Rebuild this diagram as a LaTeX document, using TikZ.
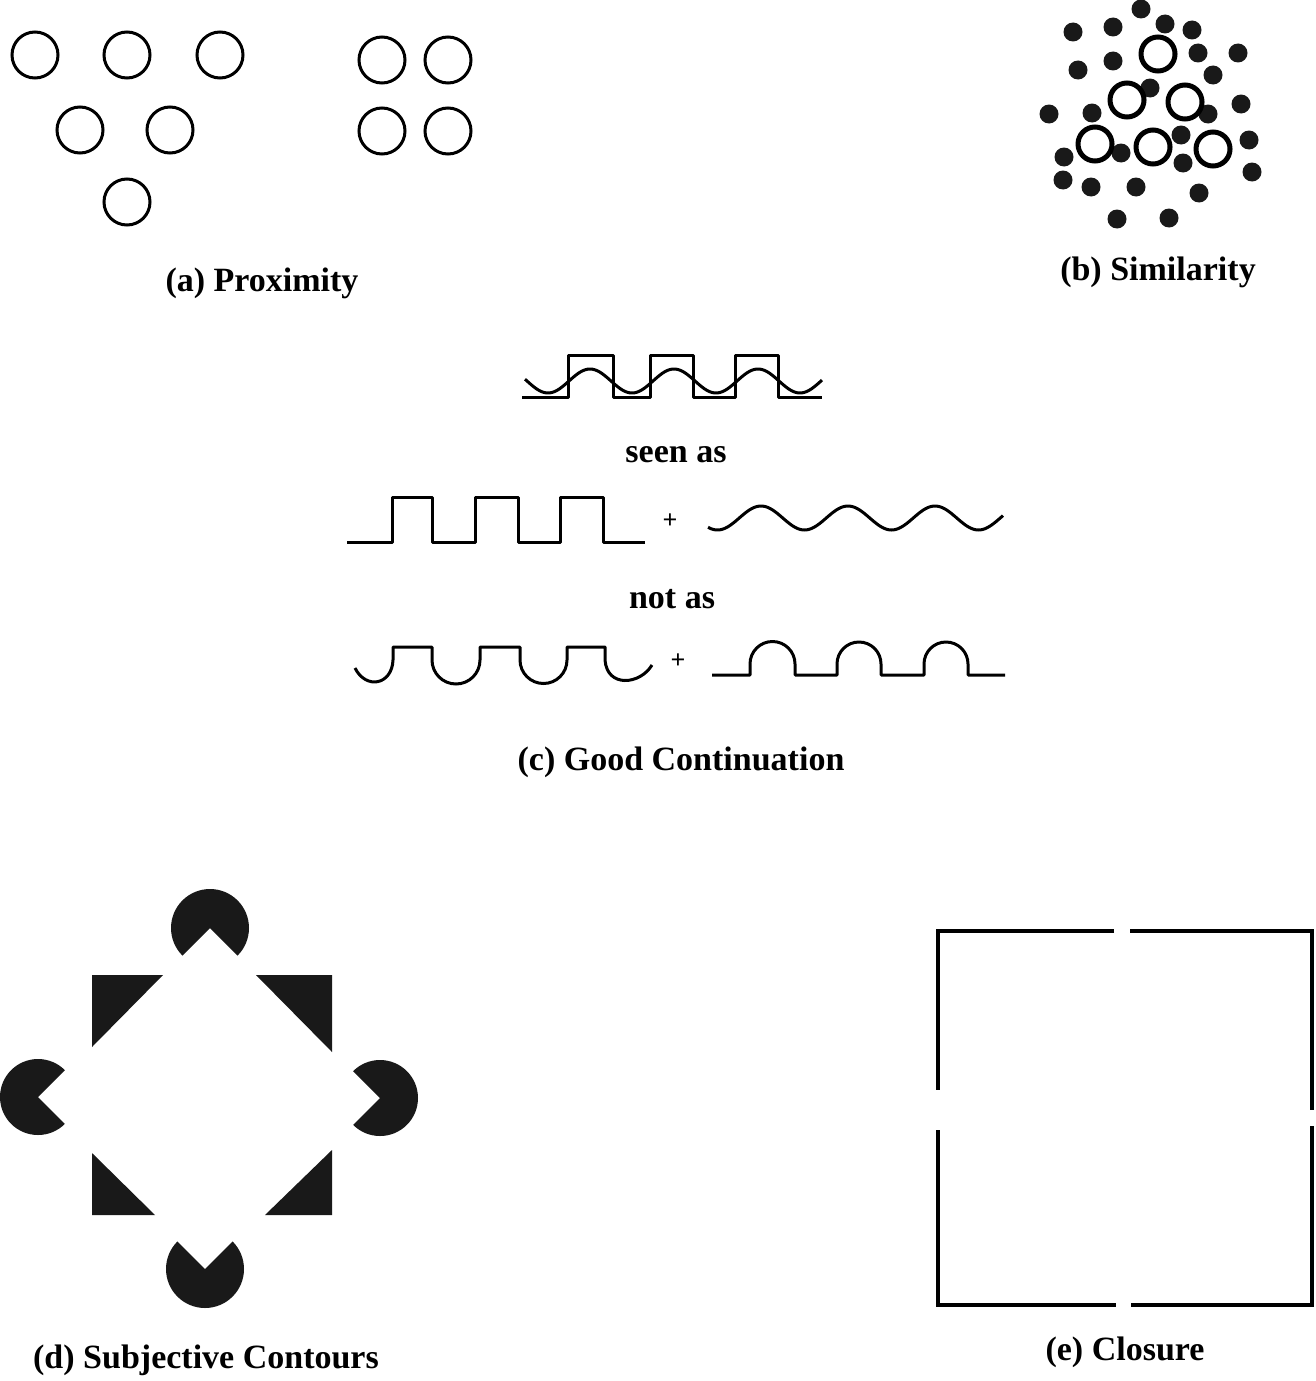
\documentclass[tikz,border=0pt]{standalone}
\usepackage{fontspec}
\setmainfont{Liberation Serif}
\begin{document}
\begin{tikzpicture}[x=1pt,y=-1pt,
  ring/.style={line width=3pt},
  bring/.style={line width=5pt},
  wave/.style={line width=3pt,line join=round},
  lab/.style={font=\fontsize{34}{40}\selectfont\bfseries},
  sub/.style={font=\fontsize{34}{40}\selectfont\bfseries},
  blk/.style={fill=black!90}]
\useasboundingbox (0,0) rectangle (1316,1381);
% (a)
\foreach \p in {(35,55),(127,55),(220,55),(80,130),(170,130),(127,202),(382,60),(448,60),(382,131),(448,131)}
  \draw[ring] \p circle[radius=23];
\node[lab] (la) at (262,283) {(a) Proximity};
% (b)
\foreach \p in {(1141,9),(1073,32),(1113,27),(1165,24),(1192,30),(1198,53),(1238,53),(1078,70),(1113,61),(1213,75),(1150,88),(1241,104),(1049,114),(1092,113),(1208,114),(1181,135),(1121,153),(1064,157),(1249,140),(1183,163),(1063,180),(1091,187),(1136,187),(1252,172),(1199,193),(1117,219),(1169,218)}
  \fill[blk] \p circle[radius=9.5];
\foreach \p in {(1158,54),(1127,100),(1185,102),(1095,144),(1153,147),(1213,149)}
  \draw[bring] \p circle[radius=17];
\node[lab] (lb) at (1158,272) {(b) Similarity};
% (c) top
\draw[wave] (522,397) -- (568,397) -- (568,355) -- (613,355) -- (613,397) -- (650,397) -- (650,355) -- (693,355) -- (693,397) -- (735,397) -- (735,355) -- (778,355) -- (778,397) -- (822,397);
\draw[wave,domain=525:822,samples=120] plot (\x,{381-12*cos((\x-590)/84*360)});
\node[sub] (seen) at (676,455) {seen as};
\draw[wave] (347,542) -- (392,542) -- (392,497) -- (432,497) -- (432,542) -- (475,542) -- (475,497) -- (518,497) -- (518,542) -- (560,542) -- (560,497) -- (603,497) -- (603,542) -- (645,542);
\node[font=\fontsize{26}{26}\selectfont\bfseries] (plus1) at (670,521) {+};
\draw[wave,domain=708:1003,samples=120] plot (\x,{518-12*cos((\x-761)/87*360)});
\node[sub] (notas) at (672,599) {not as};
\draw[wave] (355,668) .. controls (366,690) and (392,685) .. (393,660) -- (393,647) -- (432,647) -- (432,660)
  arc[start angle=180,end angle=0,radius=24] -- (480,647) -- (520,647) -- (520,660)
  arc[start angle=180,end angle=0,radius=23.5] -- (567,647) -- (605,647) -- (605,660)
  .. controls (607,688) and (640,685) .. (652,665);
\node[font=\fontsize{26}{26}\selectfont\bfseries] (plus2) at (678,661) {+};
\draw[wave] (712,675) -- (750,675) -- (750,664) arc[start angle=180,end angle=360,radius=22.5] -- (795,675)
  -- (837,675) -- (837,664) arc[start angle=180,end angle=360,radius=22] -- (881,675)
  -- (924,675) -- (924,664) arc[start angle=180,end angle=360,radius=22] -- (968,675) -- (1005,675);
\node[lab] (lc) at (681,762) {(c) Good Continuation};
% (d)
\fill[blk] (210,928) -- ++(135:39) arc[start angle=135,end angle=405,radius=39] -- cycle;
\fill[blk] (38,1097) -- ++(45:38) arc[start angle=45,end angle=315,radius=38] -- cycle;
\fill[blk] (380,1098) -- ++(-135:38) arc[start angle=-135,end angle=135,radius=38] -- cycle;
\fill[blk] (205,1269) -- ++(-45:39) arc[start angle=-45,end angle=225,radius=39] -- cycle;
\fill[blk] (92,975) -- (163,975) -- (92,1047) -- cycle;
\fill[blk] (256,975) -- (332,975) -- (332,1052) -- cycle;
\fill[blk] (92,1153) -- (92,1215) -- (155,1215) -- cycle;
\fill[blk] (332,1150) -- (332,1215) -- (265,1215) -- cycle;
\node[lab] (ld) at (206,1360) {(d) Subjective Contours};
% (e)
\begin{scope}[line width=4pt]
\draw (1114,931) -- (938,931) -- (938,1090);
\draw (938,1130) -- (938,1305) -- (1116,1305);
\draw (1130,931) -- (1312,931) -- (1312,1110);
\draw (1312,1126) -- (1312,1305) -- (1131,1305);
\end{scope}
\node[lab] (le) at (1125,1352) {(e) Closure};
\end{tikzpicture}
\end{document}
